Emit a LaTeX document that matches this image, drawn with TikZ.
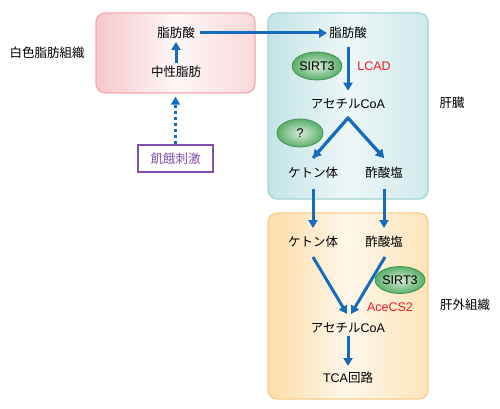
\documentclass[tikz,border=0pt]{standalone}
\usepackage{fontspec}
\setmainfont{Liberation Sans}
\newfontfamily\jp{Noto Sans CJK JP}
\usetikzlibrary{arrows.meta,shapes.geometric}
\definecolor{arrblue}{RGB}{22,108,188}
\definecolor{pinkedge}{RGB}{243,170,172}
\definecolor{pinkfill}{RGB}{247,200,203}
\definecolor{liveredge}{RGB}{160,212,214}
\definecolor{liverfill}{RGB}{196,228,230}
\definecolor{orgedge}{RGB}{248,204,140}
\definecolor{orgfill}{RGB}{252,222,168}
\definecolor{grnedge}{RGB}{60,150,80}
\definecolor{grnfill}{RGB}{90,175,105}
\definecolor{enzred}{RGB}{230,30,40}
\definecolor{purp}{RGB}{130,80,170}
\tikzset{
  organ/.style={draw, line width=1.2pt, rounded corners=9pt},
  lbl/.style={inner sep=0pt, font=\fontsize{12.5}{14}\selectfont},
  enz/.style={lbl, text=enzred},
  sirt/.style={ellipse, draw=grnedge, line width=0.8pt, inner color=grnfill!25, outer color=grnfill,
     minimum width=45pt, minimum height=28pt, inner sep=0pt, font=\fontsize{12.5}{14}\selectfont},
  flow/.style={draw=arrblue, line width=3pt, -{Triangle[length=8pt,width=9pt]}},
  dotflow/.style={draw=arrblue, line width=3pt, dash pattern=on 3pt off 3pt, -{Triangle[length=8pt,width=9pt]}},
}
\begin{document}
\begin{tikzpicture}[x=1pt,y=-1pt]
\useasboundingbox (0,0) rectangle (500,409);
% organ boxes
\path[organ, draw=pinkedge, left color=pinkfill, right color=pinkfill!70, middle color=pinkfill!15] (96,13) rectangle (255,93);
\node[inner sep=0pt] (wat) at (175.5,93) {};
\path[organ, draw=liveredge, left color=liverfill, right color=liverfill!80, middle color=liverfill!30] (268,13) rectangle (428,199);
\path[organ, draw=orgedge, left color=orgfill, right color=orgfill!80, middle color=orgfill!25] (268,213) rectangle (428,399);
% side labels
\node[lbl] (lwat) at (47,53) {\jp 白色脂肪組織};
\node[lbl] (lliv) at (452,103) {\jp 肝臓};
\node[lbl] (lext) at (465,305) {\jp 肝外組織};
% adipose
\node[lbl] (fa1) at (176,33) {\jp 脂肪酸};
\node[lbl] (tg) at (176,72) {\jp 中性脂肪};
\node[draw=purp, line width=1.2pt, text=purp, minimum width=75pt, minimum height=27pt, inner sep=0pt,
      font=\fontsize{12.5}{14}\selectfont] (fast) at (175.5,158.5) {\jp 飢餓刺激};
% liver
\node[lbl] (fa2) at (348,33) {\jp 脂肪酸};
\node[sirt] (s1) at (317,66) {SIRT3};
\node[enz] (lcad) at (374,66) {LCAD};
\node[lbl] (ac1) at (348,104) {{\jp アセチル}CoA};
\node[sirt, minimum width=46pt] (q) at (300,133) {?};
\node[lbl] (kb1) at (313,173) {\jp ケトン体};
\node[lbl] (at1) at (384,173) {\jp 酢酸塩};
% extrahepatic
\node[lbl] (kb2) at (313,242) {\jp ケトン体};
\node[lbl] (at2) at (384,242) {\jp 酢酸塩};
\node[sirt, minimum width=44pt, minimum height=27pt] (s2) at (400,280) {SIRT3};
\node[enz] (acs) at (390,307) {AceCS2};
\node[lbl] (ac2) at (348,328) {{\jp アセチル}CoA};
\node[lbl] (tca) at (348,378) {TCA{\jp 回路}};
% coordinates
\coordinate (apex) at (348,118);
\coordinate (kbtip) at (313,158);
\coordinate (attip) at (384,158);
\coordinate (kbs) at (313,257);
\coordinate (ats) at (385,257);
\coordinate (ltip) at (347,314);
\coordinate (rtip) at (351,314);
% connectors
\draw[flow, shorten <=3pt, shorten >=3pt] (tg) -- (fa1);
\draw[dotflow, shorten >=3pt] (fast) -- (wat);
\draw[flow, shorten <=5pt, shorten >=2pt] (fa1) -- (fa2);
\draw[flow, shorten <=8pt, shorten >=8pt] (fa2) -- (ac1);
\draw[flow, line join=miter] (kbtip) -- (apex) -- (attip);
\draw[flow] (apex) -- (kbtip);
\draw[flow] (apex) -- (attip);
\draw[flow, shorten <=10pt, shorten >=8pt] (kb1) -- (kb2);
\draw[flow, shorten <=10pt, shorten >=8pt] (at1) -- (at2);
\draw[flow] (kbs) -- (ltip);
\draw[flow] (ats) -- (rtip);
\draw[flow, shorten <=3pt, shorten >=6pt] (ac2) -- (tca);
\end{tikzpicture}
\end{document}
